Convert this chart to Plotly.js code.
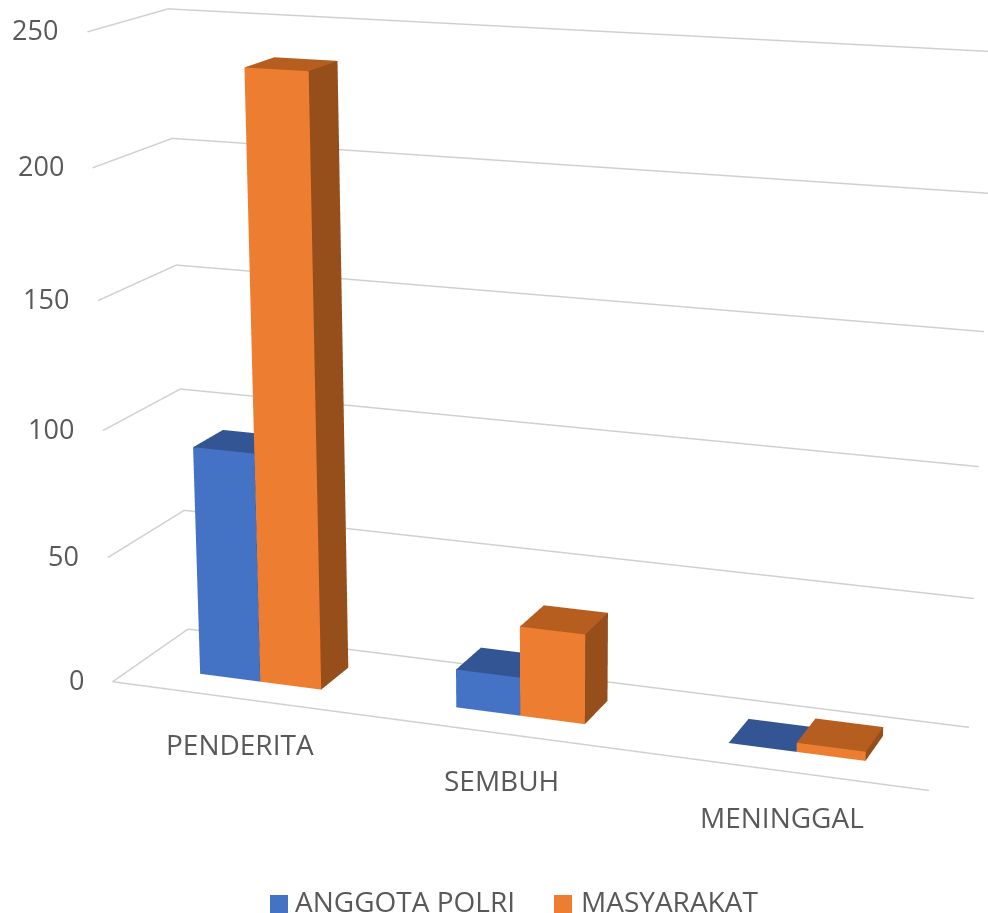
<!DOCTYPE html>
<html><head><meta charset="utf-8"><script src="https://cdn.plot.ly/plotly-3.0.1.min.js"></script>
<style>html,body{margin:0;padding:0;background:#fff;overflow:hidden}#c{width:988px;height:913px}</style></head><body><div id="c"></div>
<script>
const categories=['PENDERITA','SEMBUH','MENINGGAL'];
const anggotaPolri=[91,15,0];
const masyarakat=[237,35,3.5];
const seriesNames=['ANGGOTA POLRI','MASYARAKAT'];
const zTicks=[0,50,100,150,200,250];
const zMax=250;

// Excel-style skewed 3-D frame: fractions of the plot box -> scene coordinates
const A=[2.39092,0.24009,1.59984], S=[0.14566,-0.17591,1.02974];
const sc=(X,Y,Z)=>[A[0]*(X-.5)+S[0]*(Y-.5)+S[1]*(Z-.5),A[1]*(Y-.5)+S[2]*(Z-.5),A[2]*(Z-.5)];

const barW=0.08,y0=0.3,y1=0.7;
const C={blue:['#4472c4','#335593','#2c4a80'],orange:['#ed7d31','#b55e20','#964e1b']};
function box(name,xa,xb,v,col){const z=v/zMax,P=[[xa,y0,0],[xb,y0,0],[xb,y1,0],[xa,y1,0],[xa,y0,z],[xb,y0,z],[xb,y1,z],[xa,y1,z]].map(a=>sc(...a));
 const f=[[0,1,5],[0,5,4],[4,5,6],[4,6,7],[1,2,6],[1,6,5]];
 return{type:'mesh3d',name,x:P.map(a=>a[0]),y:P.map(a=>a[1]),z:P.map(a=>a[2]),i:f.map(a=>a[0]),j:f.map(a=>a[1]),k:f.map(a=>a[2]),
  facecolor:[col[0],col[0],col[1],col[1],col[2],col[2]],flatshading:true,hoverinfo:'skip',
  lighting:{ambient:1,diffuse:0,specular:0,roughness:1,fresnel:0},showscale:false}}
function line(pts){const P=pts.map(a=>sc(...a));return{type:'scatter3d',mode:'lines',x:P.map(a=>a[0]),y:P.map(a=>a[1]),z:P.map(a=>a[2]),line:{color:'#d0d0d0',width:3},hoverinfo:'skip',showlegend:false}}

const traces=[];
zTicks.forEach(t=>{const z=t/zMax;traces.push(line(t==0?[[1,0,0],[0,0,0],[0,1,0],[1,1,0]]:[[0,0,z],[0,1,z],[1,1,z]]))});
categories.forEach((c,i)=>{const cx=(i+.5)/3;
 traces.push(box(seriesNames[0],cx-barW,cx,anggotaPolri[i],C.blue));
 traces.push(box(seriesNames[1],cx,cx+barW,masyarakat[i],C.orange))});

const txt='#595959',fam='Open Sans';
const ann3=[];
zTicks.forEach(t=>{const w=sc(0,0,t/zMax);ann3.push({x:w[0],y:w[1],z:w[2],text:String(t),showarrow:false,xanchor:'right',xshift:-27,yshift:2,font:{family:fam,size:27,color:txt}})});
categories.forEach((c,i)=>{const w=sc((i+.5)/3,0,0);ann3.push({x:w[0],y:w[1],z:w[2],text:c,showarrow:false,xanchor:'center',xshift:i==0?2:0,yshift:-46,font:{family:fam,size:28,color:txt}})});

const px=x=>x/988,py=y=>1-y/913;
const rg={range:[-4,4],visible:false,autorange:false};
const swatch=(x,c)=>({type:'rect',xref:'paper',yref:'paper',x0:px(x),x1:px(x+18),y0:py(895),y1:py(913),fillcolor:c,line:{width:0}});
const legendText=(x,t)=>({xref:'paper',yref:'paper',x:px(x),y:py(901),text:t,showarrow:false,xanchor:'left',yanchor:'middle',font:{family:fam,size:28,color:txt}});
Plotly.newPlot('c',traces,{width:988,height:913,margin:{l:0,r:0,t:0,b:0},showlegend:false,paper_bgcolor:'#fff',
 scene:{domain:{x:[0,1],y:[0,1]},
  camera:{eye:{x:0.31358,y:-2.60504,z:1.8248},center:{x:-0.08613,y:-0.14968,z:-0.16721},up:{x:-0.0908,y:0.56008,z:1}},
  aspectmode:'manual',aspectratio:{x:8,y:8,z:8},xaxis:rg,yaxis:rg,zaxis:rg,annotations:ann3},
 shapes:[swatch(270,C.blue[0]),swatch(554,C.orange[0])],
 annotations:[legendText(293,seriesNames[0]),legendText(579,seriesNames[1])]},{displayModeBar:false});
</script></body></html>
